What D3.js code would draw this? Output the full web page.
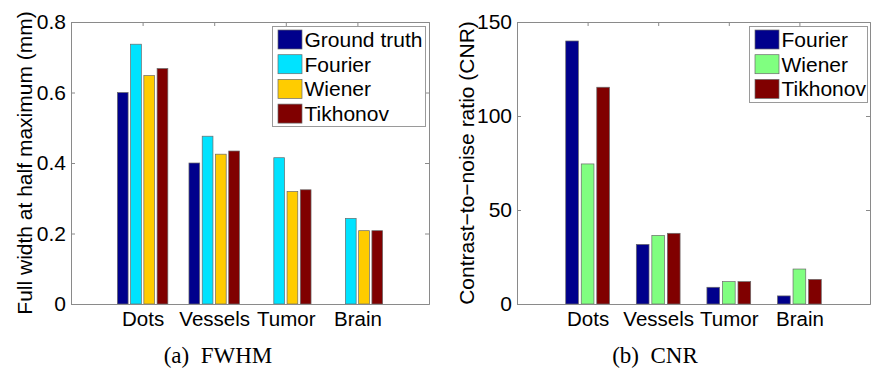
<!DOCTYPE html>
<html>
<head>
<meta charset="utf-8">
<script src="https://cdn.jsdelivr.net/npm/d3@7"></script>
<style>
  html, body { margin: 0; padding: 0; background: #fff; }
  svg { display: block; }
  text { font-family: "Liberation Sans", Arial, sans-serif; fill: #000; }
  .caption { font-family: "Liberation Serif", "Times New Roman", serif; font-weight: normal; }
</style>
</head>
<body>
<svg id="fig" width="871" height="370"></svg>
<script>
// Shared categories
const categories = ["Dots", "Vessels", "Tumor", "Brain"];

// (a) Full width at half maximum (mm)
const fwhmSeries = ["Ground truth", "Fourier", "Wiener", "Tikhonov"];
const fwhmGroundTruth = [0.60, 0.40, null, null];
const fwhmFourier     = [0.737, 0.476, 0.415, 0.243];
const fwhmWiener      = [0.648, 0.425, 0.319, 0.208];
const fwhmTikhonov    = [0.668, 0.434, 0.324, 0.208];
const fwhmTicks = [0, 0.2, 0.4, 0.6, 0.8];
const fwhmTickLabels = ["0", "0.2", "0.4", "0.6", "0.8"];

// (b) Contrast-to-noise ratio
const cnrSeries = ["Fourier", "Wiener", "Tikhonov"];
const cnrFourier  = [139.9, 31.7, 8.9, 4.3];
const cnrWiener   = [74.5, 36.5, 11.9, 18.6];
const cnrTikhonov = [115.3, 37.6, 11.9, 13.1];
const cnrTicks = [0, 50, 100, 150];
const cnrTickLabels = ["0", "50", "100", "150"];

const svg = d3.select("#fig");
const FONT = 21;

function drawPanel(cfg) {
  const g = svg.append("g");
  const x = d3.scaleLinear().domain([0, categories.length + 1]).range([cfg.left, cfg.right]);
  const y = d3.scaleLinear().domain(cfg.yDomain).range([cfg.bottom, cfg.top]);
  const axisColor = "#8a8a8a";

  // grouped bars
  const nS = cfg.series.length;
  cfg.values.forEach((vals, si) => {
    const off = (si - (nS - 1) / 2) * cfg.step;
    g.append("g").selectAll("rect")
      .data(vals.map((v, ci) => ({ v, ci })).filter(d => d.v != null))
      .join("rect")
      .attr("x", d => x(d.ci + 1 + off - cfg.barW / 2))
      .attr("width", x(cfg.barW) - x(0))
      .attr("y", d => y(d.v))
      .attr("height", d => y(0) - y(d.v))
      .attr("fill", cfg.colors[si])
      .attr("stroke", "#6a6a6a")
      .attr("stroke-width", 0.7);
  });

  // box axes with inward ticks on all sides
  const tickLen = 4;
  const yAxisL = d3.axisLeft(y).tickValues(cfg.ticks).tickSize(-tickLen)
    .tickFormat((d, i) => cfg.tickLabels[i]).tickPadding(5);
  const yAxisR = d3.axisRight(y).tickValues(cfg.ticks).tickSize(-tickLen).tickFormat("");
  const xAxisB = d3.axisBottom(x).tickValues(d3.range(1, categories.length + 1)).tickSize(0)
    .tickFormat(d => categories[d - 1]).tickPadding(7);
  const xAxisT = d3.axisTop(x).tickValues(d3.range(1, categories.length + 1)).tickSize(-tickLen).tickFormat("");

  const gb = g.append("g").attr("transform", `translate(0,${cfg.bottom})`).call(xAxisB);
  const gl = g.append("g").attr("transform", `translate(${cfg.left},0)`).call(yAxisL);
  const gr = g.append("g").attr("transform", `translate(${cfg.right},0)`).call(yAxisR);
  const gt = g.append("g").attr("transform", `translate(0,${cfg.top})`).call(xAxisT);
  [gl, gr, gb, gt].forEach(a => {
    a.select(".domain").attr("stroke", axisColor).attr("stroke-width", 1);
    a.selectAll(".tick line").attr("stroke", axisColor);
    a.selectAll("text").attr("font-size", FONT)
      .attr("font-family", "Liberation Sans, Arial, sans-serif").attr("fill", "#000");
  });
  gb.selectAll("text").attr("font-size", 20.5).attr("dy", "0.71em");

  // y label
  g.append("text")
    .attr("transform", `translate(${cfg.yLabelX},${(cfg.top + cfg.bottom) / 2}) rotate(-90)`)
    .attr("text-anchor", "middle")
    .attr("dy", "0.35em")
    .attr("font-size", FONT)
    .text(cfg.yLabel);

  // legend
  const lg = g.append("g").attr("transform", `translate(${cfg.legend.x},${cfg.legend.y})`);
  lg.append("rect")
    .attr("width", cfg.legend.w).attr("height", cfg.legend.h)
    .attr("fill", "#fff").attr("stroke", "#9a9a9a").attr("stroke-width", 1);
  cfg.series.forEach((s, i) => {
    const cy = 13 + i * 24.7;
    lg.append("rect")
      .attr("x", 5.5).attr("y", cy - 9.5).attr("width", 24).attr("height", 19)
      .attr("fill", cfg.colors[i]).attr("stroke", "#6a6a6a").attr("stroke-width", 0.7);
    lg.append("text")
      .attr("x", 32).attr("y", cy).attr("dy", "0.35em")
      .attr("font-size", FONT).text(s);
  });

  // sub-figure caption
  svg.append("text")
    .attr("class", "caption")
    .attr("x", cfg.caption.x).attr("y", 363)
    .attr("text-anchor", "middle")
    .attr("font-size", 23)
    .attr("xml:space", "preserve")
    .text(cfg.caption.text);
}

drawPanel({
  left: 71, right: 429, top: 22, bottom: 304,
  yDomain: [0, 0.8], ticks: fwhmTicks, tickLabels: fwhmTickLabels,
  series: fwhmSeries,
  values: [fwhmGroundTruth, fwhmFourier, fwhmWiener, fwhmTikhonov],
  colors: ["#00008c", "#00e3ff", "#ffcc00", "#800000"],
  step: 0.185, barW: 0.15,
  yLabel: "Full width at half maximum (mm)", yLabelX: 25,
  legend: { x: 272.5, y: 26.5, w: 153, h: 100 },
  caption: { x: 218, text: "(a)  FWHM" }
});

drawPanel({
  left: 517, right: 870, top: 22, bottom: 304,
  yDomain: [0, 150], ticks: cnrTicks, tickLabels: cnrTickLabels,
  series: cnrSeries,
  values: [cnrFourier, cnrWiener, cnrTikhonov],
  colors: ["#00008c", "#80ff80", "#800000"],
  step: 0.22, barW: 0.18,
  yLabel: "Contrast\u2212to\u2212noise ratio (CNR)", yLabelX: 467,
  legend: { x: 749.5, y: 26.5, w: 118, h: 76 },
  caption: { x: 655, text: "(b)  CNR" }
});
</script>
</body>
</html>
